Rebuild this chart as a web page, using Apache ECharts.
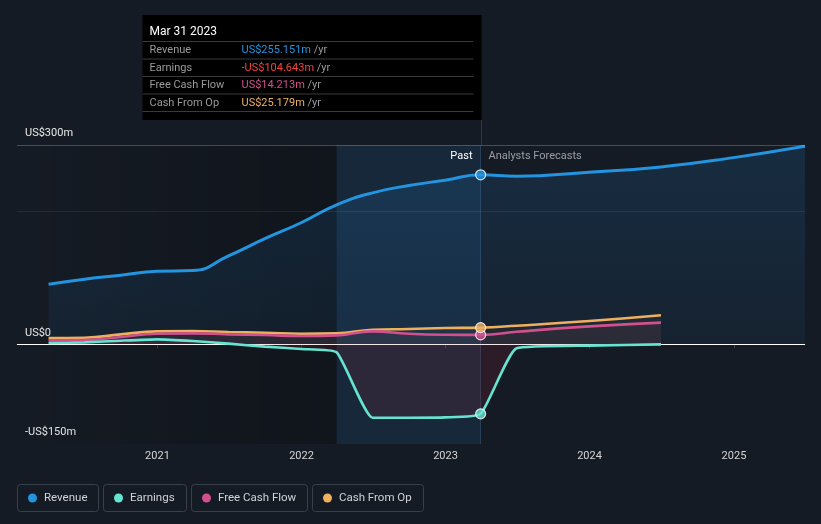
<!DOCTYPE html>
<html>
<head>
<meta charset="utf-8">
<script src="https://cdn.jsdelivr.net/npm/echarts@6/dist/echarts.min.js"></script>
<style>
  html, body { margin: 0; padding: 0; background: #151b24; }
  #main { width: 821px; height: 524px; }
</style>
</head>
<body>
<div id="main"></div>
<script>
// ---- data (US$ millions) ----
const pastDates = ['2020-03-31','2020-06-30','2020-09-30','2020-12-31','2021-03-31','2021-06-30','2021-09-30','2021-12-31','2022-03-31','2022-06-30','2022-09-30','2022-12-31','2023-03-31'];
const revenuePast  = [90.4, 98, 104, 110, 111, 133, 159, 183, 210, 228, 239, 247, 255.151];
const earningsPast = [2, 3, 5.5, 7.5, 5, 1, -3.5, -7, -12, -110.5, -110.5, -110, -104.643];
const fcfPast      = [6, 6.5, 11, 16, 16.5, 15, 14, 12.5, 13.5, 19.5, 16, 14.5, 14.213];
const cfoPast      = [9.5, 10, 15, 19.5, 20, 18.6, 17.5, 16, 16.5, 22, 23, 24.5, 25.179];

const forecastDates = ['2023-06-30','2023-12-31','2024-06-30','2024-12-31','2025-06-30'];
const revenueFc  = [253, 259, 267, 281, 298];
const earningsFc = [-6, -2, 0, null, null];
const fcfFc      = [19, 27, 32.7, null, null];
const cfoFc      = [28, 35, 43.7, null, null];

const seriesNames = ['Revenue', 'Earnings', 'Free Cash Flow', 'Cash From Op'];
const seriesColors = ['#2394df', '#66e3d1', '#d2508e', '#eeb05f'];

const xTickLabels = ['2021', '2022', '2023', '2024', '2025'];
const yTickValues = [-150, 0, 300];
const yTickLabels = ['-US$150m', 'US$0', 'US$300m'];
const gridLineValues = [300, 200];

const axisStart = '2020-01-11';
const axisEnd = '2025-06-30';
const lastYearStart = '2022-03-31';
const tooltipTitle = 'Mar 31 2023';

// ---- helpers ----
const t = s => new Date(s + 'T00:00:00Z').getTime();
function build(pastVals, fcVals) {
  const out = pastDates.map((d, i) => [t(d), pastVals[i]]);
  forecastDates.forEach((d, i) => { if (fcVals[i] !== null) out.push([t(d), fcVals[i]]); });
  return out;
}
const allPast = [revenuePast, earningsPast, fcfPast, cfoPast];
const allFc = [revenueFc, earningsFc, fcfFc, cfoFc];
const pastEnd = pastDates[pastDates.length - 1];

const areaFills = [
  new echarts.graphic.LinearGradient(0, 0, 0, 1, [{offset: 0, color: 'rgba(35,130,210,0.24)'}, {offset: 1, color: 'rgba(35,130,210,0.10)'}]),
  'rgba(170,40,60,0.22)',
  'rgba(210,80,140,0.10)',
  'rgba(238,176,95,0.06)'
];
const smoothness = [0.5, 0.15, 0.5, 0.5];

const FONT = 'Roboto, "Noto Sans", sans-serif';

const series = [];
seriesNames.forEach((name, i) => {
  series.push({
    name: name,
    type: 'line',
    data: build(allPast[i], allFc[i]),
    smooth: smoothness[i],
    showSymbol: false,
    symbol: 'none',
    lineStyle: { color: seriesColors[i], width: i === 0 ? 3 : 2.6 },
    areaStyle: { color: areaFills[i], origin: 0 },
    z: 2 + (i === 0 ? 0 : 4 - i),
    silent: true
  });
});

series[0].markArea = {
  silent: true,
  data: [
    [{ xAxis: t(axisStart), itemStyle: { color: new echarts.graphic.LinearGradient(0, 0, 1, 0, [{offset: 0, color: 'rgba(0,0,0,0)'}, {offset: 1, color: 'rgba(0,0,0,0.22)'}]) } }, { xAxis: t(lastYearStart) }],
    [{ xAxis: t(lastYearStart), itemStyle: { color: 'rgba(40,130,210,0.13)' } }, { xAxis: t(pastEnd) }]
  ]
};
series[0].markLine = {
  silent: true, symbol: 'none', label: { show: false },
  data: [
    { yAxis: gridLineValues[0], lineStyle: { color: 'rgba(255,255,255,0.22)', width: 1, type: 'solid' } },
    { yAxis: gridLineValues[1], lineStyle: { color: 'rgba(255,255,255,0.07)', width: 1, type: 'solid' } },
    { xAxis: t(pastEnd), lineStyle: { color: 'rgba(90,140,190,0.28)', width: 1, type: 'solid' } }
  ]
};
series[1].markLine = {
  silent: true, symbol: 'none', label: { show: false },
  data: [{ yAxis: 0, lineStyle: { color: '#ffffff', width: 1.2, type: 'solid' } }]
};

series.push({
  type: 'scatter',
  data: seriesNames.map((n, i) => ({ value: [t(pastEnd), allPast[i][allPast[i].length - 1]], itemStyle: { color: seriesColors[i] } })),
  symbolSize: 10,
  itemStyle: { borderColor: '#ffffff', borderWidth: 1.2 },
  z: 10,
  silent: true
});

const xTickValues = xTickLabels.map(y => t(y + '-01-01'));

const chart = echarts.init(document.getElementById('main'), null, { renderer: 'canvas' });
chart.setOption({
  backgroundColor: '#151b24',
  animation: false,
  grid: { left: 17, right: 16, top: 145, bottom: 80, containLabel: false },
  xAxis: {
    type: 'value',
    min: t(axisStart), max: t(axisEnd),
    splitLine: { show: false },
    axisLine: { show: true, lineStyle: { color: '#3c424c', width: 1 } },
    axisTick: { show: true, length: 4, lineStyle: { color: '#3c424c' }, customValues: xTickValues },
    axisLabel: {
      customValues: xTickValues,
      formatter: v => { const k = xTickValues.indexOf(v); return k >= 0 ? xTickLabels[k] : ''; },
      color: '#d6d6d6', fontSize: 11, fontFamily: FONT, margin: 7
    }
  },
  yAxis: {
    type: 'value', min: -150, max: 300, interval: 150,
    splitLine: { show: false }, axisLine: { show: false }, axisTick: { show: false },
    axisLabel: {
      inside: true, margin: 8, color: '#e8e8e8', fontSize: 11, fontFamily: FONT,
      verticalAlign: 'bottom', padding: [0, 0, 6, 0],
      customValues: yTickValues,
      formatter: v => { const k = yTickValues.indexOf(v); return k >= 0 ? yTickLabels[k] : ''; }
    }
  },
  series: series
});

// ---- overlay: tooltip box, past/forecast labels, legend ----
const pEnd = chart.convertToPixel({ gridIndex: 0 }, [t(pastEnd), 300]);
const xEnd = Math.round(pEnd[0]) + 0.5;
const gridTop = pEnd[1];
const fmt = v => (v < 0 ? '-' : '') + 'US$' + Math.abs(v).toFixed(3) + 'm';
const valueColors = ['#2394df', '#f3443f', '#d2508e', '#eeb05f'];

const gfx = [];
const boxW = 339, boxTop = 15, boxH = 105;
const boxLeft = xEnd - boxW;
gfx.push({ type: 'rect', shape: { x: boxLeft, y: boxTop, width: boxW, height: boxH }, style: { fill: '#000000' }, z: 50, silent: true });
gfx.push({ type: 'line', shape: { x1: xEnd, y1: boxTop + boxH, x2: xEnd, y2: gridTop }, style: { stroke: 'rgba(90,140,190,0.28)', lineWidth: 1 }, z: 50, silent: true });
gfx.push({ type: 'text', x: boxLeft + 7, y: 31.5, style: { text: tooltipTitle, fill: '#ffffff', font: '12px ' + FONT, verticalAlign: 'middle' }, z: 51, silent: true });
const sepYs = [41, 58.5, 76, 93.5, 111];
sepYs.forEach(y => gfx.push({ type: 'line', shape: { x1: boxLeft, y1: y + 0.5, x2: boxLeft + 331, y2: y + 0.5 }, style: { stroke: '#3a3a3a', lineWidth: 1 }, z: 51, silent: true }));
seriesNames.forEach((n, i) => {
  const cy = (sepYs[i] + sepYs[i + 1]) / 2 + 0.5;
  const v = allPast[i][allPast[i].length - 1];
  gfx.push({ type: 'text', x: boxLeft + 7, y: cy, style: { text: n, fill: '#9a9a9a', font: '11px ' + FONT, verticalAlign: 'middle' }, z: 51, silent: true });
  gfx.push({ type: 'text', x: boxLeft + 99, y: cy, style: {
    text: '{v|' + fmt(v) + '} {u|/yr}', verticalAlign: 'middle', font: '11px ' + FONT,
    rich: { v: { fill: valueColors[i], font: '11px ' + FONT }, u: { fill: '#9a9a9a', font: '11px ' + FONT } }
  }, z: 51, silent: true });
});

gfx.push({ type: 'text', x: xEnd - 9, y: 156, style: { text: 'Past', fill: '#ffffff', font: '11px ' + FONT, align: 'right', verticalAlign: 'middle' }, z: 20, silent: true });
gfx.push({ type: 'text', x: xEnd + 7, y: 156, style: { text: 'Analysts Forecasts', fill: '#9a9ea5', font: '11px ' + FONT, align: 'left', verticalAlign: 'middle' }, z: 20, silent: true });

const LFONT = '11.5px Roboto';
const ctx = document.createElement('canvas').getContext('2d');
ctx.font = LFONT;
let lx = 17;
const ly = 484, lh = 27;
seriesNames.forEach((n, i) => {
  const tw = ctx.measureText(n).width;
  const w = Math.round(27 + tw + 11);
  gfx.push({ type: 'rect', shape: { x: lx + 0.5, y: ly + 0.5, width: w, height: lh, r: 3 }, style: { fill: 'none', stroke: '#3a404a', lineWidth: 1 }, z: 30, silent: true });
  gfx.push({ type: 'circle', shape: { cx: lx + 15.5, cy: ly + 14, r: 4.5 }, style: { fill: seriesColors[i] }, z: 31, silent: true });
  gfx.push({ type: 'text', x: lx + 27, y: ly + 14, style: { text: n, fill: '#d0d3d8', font: LFONT + ', "Noto Sans", sans-serif', verticalAlign: 'middle' }, z: 31, silent: true });
  lx += w + 5;
});

chart.setOption({ graphic: gfx });
</script>
</body>
</html>
